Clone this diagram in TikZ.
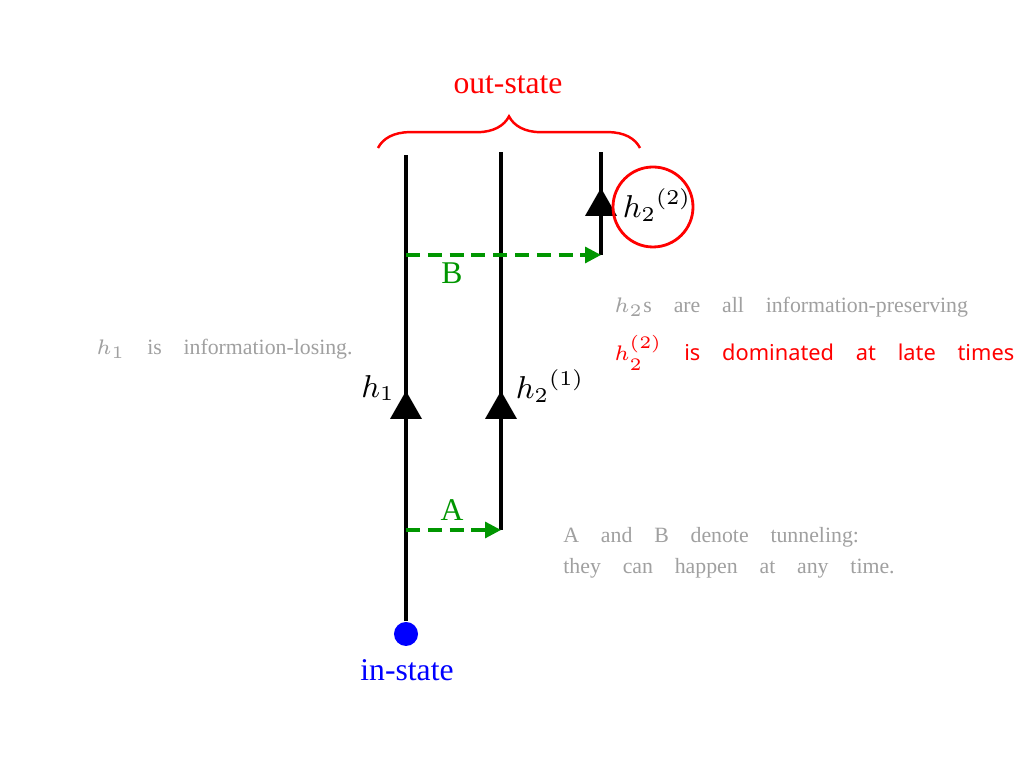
\documentclass[tikz,border=0pt]{standalone}
\usepackage{fontspec}
\setmainfont{Liberation Serif}
\newfontfamily\notefont{Noto Sans}
\usetikzlibrary{decorations.pathreplacing,arrows.meta}
\definecolor{darkgreen}{RGB}{0,150,0}
\definecolor{notegray}{RGB}{160,160,160}
\begin{document}
\begin{tikzpicture}[x=0.01cm,y=-0.01cm,
    worldline/.style={line width=1.4pt},
    tunnel/.style={darkgreen, line width=0.9pt, dash pattern=on 4pt off 2.2pt, -{Triangle[length=4.5pt,width=4.5pt]}},
    biglabel/.style={font=\fontsize{9}{10}\selectfont},
    note/.style={notegray, anchor=west, font=\fontsize{6.2}{7}\selectfont}]
  \clip (0,0) rectangle (1024,768);
  \fill[white] (0,0) rectangle (1024,768);

  % world lines
  \node[circle, fill=blue, inner sep=0pt, minimum size=0.24cm] (in) at (406,634) {};
  \coordinate (top1) at (406,155);
  \coordinate (top2) at (501,152);
  \coordinate (top3) at (601,152);
  \coordinate (a2) at (501,530);
  \coordinate (b3) at (601,255);
  \coordinate (a1) at (406,530);
  \coordinate (b1) at (406,255);
  \draw[worldline] (in) -- (top1);
  \draw[worldline] (a2) -- (top2);
  \draw[worldline] (b3) -- (top3);

  % arrowheads
  \foreach \x/\y in {406/405, 501/405, 601/202}
    \fill (\x-16,\y+14) -- (\x,\y-14) -- (\x+16,\y+14) -- cycle;

  % tunneling
  \draw[tunnel] (b1) -- (b3);
  \draw[tunnel] (a1) -- (a2);
  \node[biglabel, darkgreen] (lb) at (452,273) {B};
  \node[biglabel, darkgreen] (la) at (452,510) {A};

  % labels
  \node[biglabel] (h1) at (378,388) {$h_1$};
  \node[biglabel] (h21) at (550,386) {$h_2{}^{(1)}$};
  \node[biglabel] (h22) at (657,205) {$h_2{}^{(2)}$};
  \draw[red, line width=0.8pt] (653,207) circle (40);

  % out and in states
  \draw[red, line width=0.7pt, decorate, decoration={brace, amplitude=9pt}]
    (378,148) -- (640,148);
  \node[biglabel, red] (out) at (508,85) {out-state};
  \node[biglabel, blue] (inlabel) at (407,670) {in-state};

  % notes
  \node[note] (n1) at (84,349) {$h_1$\quad is\quad information-losing.};
  \node[note] (n2) at (602,307) {$h_2$s\quad are\quad all\quad information-preserving};
  \node[note, red, font=\notefont\fontsize{6.2}{7}\selectfont] (n3) at (602,353) {$h_2^{(2)}$\quad is\quad dominated\quad at\quad late\quad times};
  \node[note] (n4) at (551,537) {A\quad and\quad B\quad denote\quad tunneling:};
  \node[note] (n5) at (551,568) {they\quad can\quad happen\quad at\quad any\quad time.};
\end{tikzpicture}
\end{document}
